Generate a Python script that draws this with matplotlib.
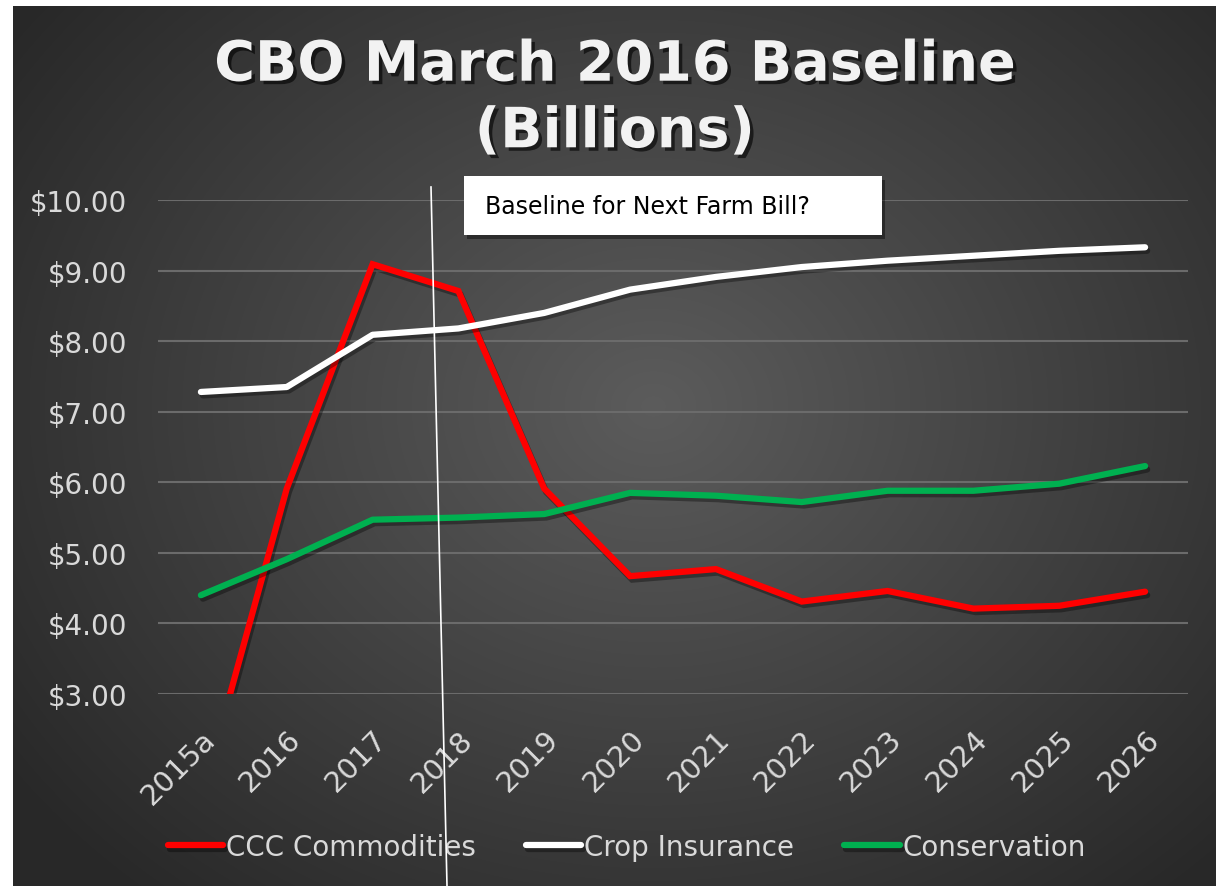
import numpy as np
import matplotlib
matplotlib.use('Agg')
import matplotlib.pyplot as plt
import matplotlib.patheffects as pe
from matplotlib.patches import Rectangle

# data
years = ['2015a', '2016', '2017', '2018', '2019', '2020',
         '2021', '2022', '2023', '2024', '2025', '2026']
ccc_commodities = [1.5, 5.91, 9.09, 8.71, 5.91, 4.67, 4.77, 4.31, 4.46, 4.21, 4.25, 4.45]
crop_insurance = [7.28, 7.35, 8.09, 8.18, 8.40, 8.73, 8.91, 9.05, 9.14, 9.21, 9.28, 9.33]
conservation = [4.40, 4.91, 5.47, 5.50, 5.55, 5.85, 5.81, 5.72, 5.88, 5.88, 5.98, 6.23]
y_ticks = [3, 4, 5, 6, 7, 8, 9, 10]

W, H = 1217, 887
fig = plt.figure(figsize=(W / 100, H / 100), dpi=100, facecolor='white')

# dark radial gradient background (white margin left/top)
bg = fig.add_axes([13 / W, 0, (1216 - 13) / W, 1 - 7 / H])
bg.set_axis_off()
yy, xx = np.mgrid[0:880, 0:1203]
cx, cy = 640, 400
r = np.sqrt(((xx - cx) / 780.0) ** 2 + ((yy - cy) / 640.0) ** 2)
val = 0.36 - 0.20 * np.clip(r, 0, 1)
img = np.dstack([val, val, val])
bg.imshow(img, aspect='auto', extent=[0, 1, 0, 1])
bg.set_xlim(0, 1)
bg.set_ylim(0, 1)

ax = fig.add_axes([158 / W, 1 - 695 / H, (1188 - 158) / W, (695 - 201) / H])
ax.patch.set_alpha(0)
x = np.arange(len(years))

shadow = [pe.SimpleLineShadow(offset=(1.5, -2.5), shadow_color='black', alpha=0.35), pe.Normal()]
ax.plot(x, ccc_commodities, color='#ff0000', lw=4.5, solid_capstyle='round',
        solid_joinstyle='miter', label='CCC Commodities', path_effects=shadow, zorder=3)
ax.plot(x, crop_insurance, color='white', lw=4.5, solid_capstyle='round',
        label='Crop Insurance', path_effects=shadow, zorder=3)
ax.plot(x, conservation, color='#00b050', lw=4.5, solid_capstyle='round',
        label='Conservation', path_effects=shadow, zorder=3)

ax.set_xlim(-0.5, len(years) - 0.5)
ax.set_ylim(3, 10)
ax.set_yticks(y_ticks)
ax.set_yticklabels(['${:.2f}'.format(v) for v in y_ticks])
ax.set_xticks(x)
ax.set_xticklabels(years, rotation=45, ha='right', va='top', rotation_mode='anchor')
ax.tick_params(axis='both', length=0, colors='#d9d9d9', labelsize=21)
ax.tick_params(axis='y', labelsize=20, pad=22)
ax.tick_params(axis='x', pad=22)
ax.grid(axis='y', color='#6b6b6b', lw=1.5)
ax.set_axisbelow(True)
for s in ax.spines.values():
    s.set_visible(False)

leg = ax.legend(loc='center', bbox_to_anchor=(0.455, -0.31), ncol=3, frameon=False,
                fontsize=20, handlelength=2.0, handletextpad=0.1, columnspacing=1.8,
                labelcolor='#d9d9d9')

# title
title = fig.text(0.505, 1 - 100 / H, 'CBO March 2016 Baseline\n(Billions)', ha='center', va='center',
                 fontsize=40, fontweight='bold', color='#f2f2f2', linespacing=1.3)
title.set_path_effects([pe.SimplePatchShadow(offset=(2.5, -2.5), shadow_rgbFace='black', alpha=0.6), pe.Normal()])

# annotation box
box = Rectangle((464 / W, 1 - 236 / H), (882 - 464) / W, (236 - 177) / H, transform=fig.transFigure,
                facecolor='white', edgecolor='none', zorder=5)
box.set_path_effects([pe.SimplePatchShadow(offset=(2, -3), shadow_rgbFace='black', alpha=0.4), pe.Normal()])
fig.patches.append(box)
fig.text(485 / W, 1 - 207 / H, 'Baseline for Next Farm Bill?', ha='left', va='center',
         fontsize=17, color='black', zorder=6)

# thin vertical marker line
fig.add_artist(plt.Line2D([431 / W, 447 / W], [1 - 188 / H, 0], transform=fig.transFigure,
                          color='white', lw=1.2, zorder=6))

fig.savefig('out.png', dpi=100, facecolor='white')
